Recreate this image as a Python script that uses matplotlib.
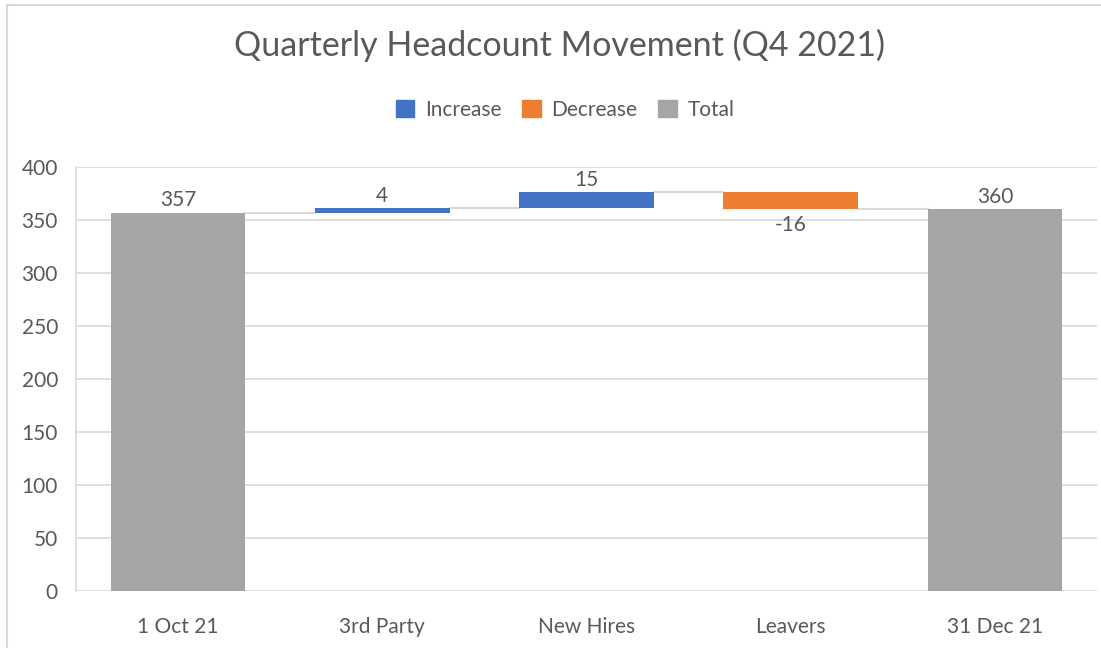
import numpy as np
import matplotlib.pyplot as plt
from matplotlib.patches import Rectangle
from matplotlib.patches import Patch

categories = ['1 Oct 21', '3rd Party', 'New Hires', 'Leavers', '31 Dec 21']
changes = [357, 4, 15, -16, 360]
kinds = ['total', 'inc', 'inc', 'dec', 'total']

colors = {'inc': '#4472c4', 'dec': '#ed7d31', 'total': '#a5a5a5'}
txt = '#595959'
grid = '#d9d9d9'

plt.rcParams['font.family'] = ['Lato', 'DejaVu Sans']

fig = plt.figure(figsize=(11.01, 6.48), dpi=100)
ax = fig.add_axes([76/1101, 1-591/648, (1097-76)/1101, (591-167)/648])

# waterfall bottoms / tops
bottoms = []
tops = []
level = 0
for v, k in zip(changes, kinds):
    if k == 'total':
        bottoms.append(0)
        tops.append(v)
        level = v
    else:
        bottoms.append(level)
        level = level + v
        tops.append(level)

fs = 15
x = np.arange(len(categories))
w = 0.66
for i in range(len(categories)):
    lo = min(bottoms[i], tops[i])
    h = abs(tops[i] - bottoms[i])
    ax.bar(x[i], h, bottom=lo, width=w, color=colors[kinds[i]], zorder=3)
    if kinds[i] == 'dec':
        ax.text(x[i], lo - 5, str(changes[i]), ha='center', va='top', fontsize=fs, color=txt)
    else:
        ax.text(x[i], max(bottoms[i], tops[i]) + 2, str(changes[i]), ha='center', va='bottom', fontsize=fs, color=txt)

# connector lines
for i in range(len(categories) - 1):
    ax.plot([x[i] + w/2, x[i+1] - w/2], [tops[i], tops[i]], color=grid, lw=1.5, zorder=2)

ax.set_xlim(-0.5, len(categories) - 0.5)
ax.set_ylim(0, 400)
ax.set_yticks(range(0, 401, 50))
ax.set_xticks(x)
ax.set_xticklabels(categories)
ax.yaxis.grid(True, color=grid, lw=1.2, zorder=0)
ax.set_axisbelow(True)
ax.tick_params(axis='both', length=0, labelsize=fs, labelcolor=txt)
ax.tick_params(axis='x', pad=19)
ax.tick_params(axis='y', pad=13)
for s in ['top', 'right', 'bottom']:
    ax.spines[s].set_visible(False)
ax.spines['left'].set_color(grid)
ax.spines['left'].set_linewidth(1.2)

fig.text(560/1101, 1-45/648, 'Quarterly Headcount Movement (Q4 2021)', ha='center', va='center',
         fontsize=24.5, color=txt)

handles = [Patch(color=colors['inc'], label='Increase'),
           Patch(color=colors['dec'], label='Decrease'),
           Patch(color=colors['total'], label='Total')]
fig.legend(handles=handles, loc='center', bbox_to_anchor=(565/1101, 1-110/648), ncol=3,
           frameon=False, fontsize=fs, labelcolor=txt, handlelength=0.9, handleheight=0.9,
           handletextpad=0.5, columnspacing=1.0)

# chart border
fig.patches.append(Rectangle((7/1101, -0.05), 1.0, 1-5/648 + 0.05, transform=fig.transFigure,
                             fill=False, edgecolor=grid, lw=1.5))

fig.savefig('out.png', dpi=100)
